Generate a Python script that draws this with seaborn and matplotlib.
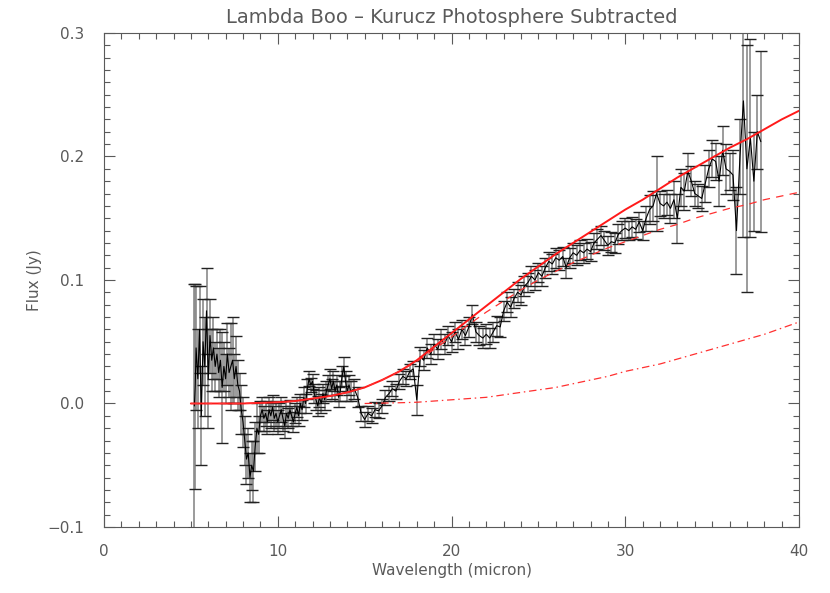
import matplotlib
matplotlib.use("Agg")
import matplotlib.pyplot as plt
import seaborn as sns
import numpy as np
import pandas as pd
from matplotlib.ticker import MultipleLocator, FixedLocator

# ---------------- data ----------------
sl_wave = [5.2, 5.25, 5.3, 5.4, 5.5, 5.6, 5.7, 5.8, 5.9, 6.0, 6.1, 6.2, 6.3, 6.4, 6.5, 6.6, 6.7,
           6.8, 6.9, 7.0, 7.1, 7.2, 7.3, 7.4, 7.5, 7.6, 7.7, 7.8, 7.9, 8.0, 8.1, 8.2, 8.3,
           8.4, 8.5, 8.6, 8.7, 8.8, 8.9, 9.0, 9.1, 9.2, 9.3, 9.4, 9.5, 9.6, 9.7, 9.8, 9.9,
           10.0, 10.1, 10.2, 10.3, 10.4, 10.5, 10.6, 10.7, 10.8, 10.9, 11.0, 11.1, 11.2,
           11.3, 11.4, 11.5, 11.6, 11.7, 11.8, 11.9, 12.0, 12.1, 12.2, 12.3, 12.4, 12.5,
           12.6, 12.7, 12.8, 12.9, 13.0, 13.1, 13.2, 13.3, 13.4, 13.5, 13.6, 13.7, 13.8,
           13.9, 14.0, 14.1, 14.2]
sl_flux = [-0.002, 0.014, 0.045, 0.020, 0.060, -0.010, 0.050, 0.030, 0.075, 0.020, 0.055, 0.035,
           0.045, 0.030, 0.040, 0.025, 0.035, 0.013, 0.030, 0.020, 0.040, 0.025, 0.030,
           0.035, 0.020, 0.030, 0.015, 0.010, -0.005, -0.015, -0.030, -0.045, -0.040,
           -0.060, -0.050, -0.055, -0.035, -0.020, -0.025, -0.010, -0.005, -0.012, -0.008,
           -0.015, -0.005, -0.010, -0.003, -0.012, -0.008, -0.015, -0.010, -0.005, -0.012,
           -0.018, -0.008, -0.012, -0.005, -0.010, -0.015, -0.008, -0.003, -0.010, 0.000,
           -0.005, 0.005, 0.000, 0.012, 0.020, 0.015, 0.018, 0.008, 0.003, -0.002, 0.005,
           0.000, 0.008, 0.003, 0.010, 0.015, 0.020, 0.012, 0.018, 0.010, 0.015, 0.005,
           0.010, 0.022, 0.030, 0.018, 0.010, 0.015, 0.010]
sl_err = [0.099, 0.083, 0.050, 0.040, 0.035, 0.040, 0.035, 0.040, 0.035, 0.040, 0.030, 0.025,
          0.025, 0.020, 0.020, 0.020, 0.025, 0.045, 0.020, 0.020, 0.025, 0.020, 0.035,
          0.035, 0.020, 0.025, 0.020, 0.015, 0.020, 0.020, 0.020, 0.020, 0.020, 0.020,
          0.020, 0.025, 0.020, 0.020, 0.015, 0.012, 0.010, 0.010, 0.010, 0.010, 0.010,
          0.010, 0.010, 0.010, 0.010, 0.010, 0.010, 0.010, 0.010, 0.010, 0.010, 0.008,
          0.008, 0.008, 0.008, 0.008, 0.008, 0.008, 0.008, 0.008, 0.008, 0.008, 0.008,
          0.006, 0.006, 0.006, 0.008, 0.008, 0.008, 0.008, 0.008, 0.008, 0.008, 0.008,
          0.008, 0.008, 0.008, 0.008, 0.008, 0.008, 0.008, 0.008, 0.008, 0.008, 0.008,
          0.008, 0.008, 0.008]

ll_wave = [14.4, 14.6, 14.8, 15.0, 15.2, 15.4, 15.6, 15.8, 16.0, 16.2, 16.4, 16.6, 16.8,
           17.0, 17.2, 17.4, 17.6, 17.8, 18.0, 18.2, 18.4, 18.6, 18.8, 19.0, 19.2, 19.4,
           19.6, 19.8, 20.0, 20.2, 20.4, 20.6, 20.8, 21.0, 21.2, 21.4, 21.6, 21.8, 22.0,
           22.2, 22.4, 22.6, 22.8, 23.0, 23.2, 23.4, 23.6, 23.8, 24.0, 24.2, 24.4, 24.6,
           24.8, 25.0, 25.2, 25.4, 25.6, 25.8, 26.0, 26.2, 26.4, 26.6, 26.8, 27.0, 27.2,
           27.4, 27.6, 27.8, 28.0, 28.2, 28.4, 28.6, 28.8, 29.0, 29.2, 29.4, 29.6, 29.8,
           30.0, 30.2, 30.4, 30.6, 30.8, 31.0, 31.2, 31.4, 31.6, 31.8, 32.0, 32.2, 32.4,
           32.6, 32.8, 33.0, 33.2, 33.4, 33.6, 33.8, 34.0, 34.2, 34.4, 34.6, 34.8, 35.0,
           35.2, 35.4, 35.6, 35.8, 36.0, 36.2, 36.4, 36.6, 36.8, 37.0, 37.2, 37.4, 37.6,
           37.8]
ll_flux = [0.012, 0.005, -0.008, -0.013, -0.008, -0.010, -0.005, -0.006, -0.002, 0.005,
           0.008, 0.012, 0.010, 0.018, 0.022, 0.020, 0.026, 0.028, 0.003, 0.038, 0.035,
           0.045, 0.040, 0.048, 0.044, 0.052, 0.048, 0.055, 0.050, 0.058, 0.052, 0.060,
           0.055, 0.062, 0.072, 0.058, 0.055, 0.053, 0.056, 0.053, 0.058, 0.063, 0.062,
           0.075, 0.082, 0.078, 0.085, 0.090, 0.088, 0.095, 0.098, 0.103, 0.100, 0.106,
           0.103, 0.110, 0.115, 0.113, 0.118, 0.116, 0.119, 0.110, 0.118, 0.122, 0.120,
           0.124, 0.122, 0.125, 0.123, 0.130, 0.133, 0.136, 0.132, 0.128, 0.131, 0.130,
           0.137, 0.140, 0.142, 0.140, 0.143, 0.141, 0.147, 0.140, 0.150, 0.157, 0.160,
           0.170, 0.162, 0.160, 0.163, 0.158, 0.165, 0.150, 0.175, 0.172, 0.188, 0.180,
           0.170, 0.168, 0.166, 0.178, 0.190, 0.198, 0.196, 0.180, 0.205, 0.190, 0.188,
           0.185, 0.140, 0.200, 0.245, 0.190, 0.215, 0.180, 0.220, 0.212]
ll_err = [0.008, 0.008, 0.006, 0.006, 0.006, 0.006, 0.006, 0.006, 0.006, 0.006, 0.006,
          0.006, 0.006, 0.006, 0.006, 0.006, 0.006, 0.006, 0.012, 0.008, 0.008, 0.008,
          0.008, 0.008, 0.008, 0.008, 0.008, 0.008, 0.008, 0.008, 0.008, 0.008, 0.008,
          0.008, 0.008, 0.008, 0.008, 0.008, 0.008, 0.008, 0.008, 0.008, 0.008, 0.008,
          0.008, 0.008, 0.008, 0.008, 0.008, 0.008, 0.008, 0.008, 0.008, 0.008, 0.008,
          0.008, 0.008, 0.008, 0.008, 0.008, 0.008, 0.008, 0.008, 0.008, 0.008, 0.008,
          0.008, 0.008, 0.008, 0.008, 0.008, 0.008, 0.008, 0.008, 0.008, 0.008, 0.008,
          0.008, 0.008, 0.008, 0.008, 0.008, 0.008, 0.008, 0.010, 0.012, 0.012, 0.030,
          0.010, 0.010, 0.010, 0.012, 0.015, 0.020, 0.015, 0.015, 0.015, 0.012, 0.010,
          0.010, 0.010, 0.015, 0.015, 0.015, 0.015, 0.020, 0.020, 0.020, 0.015, 0.020,
          0.035, 0.030, 0.110, 0.100, 0.080, 0.040, 0.030, 0.073]

# model curves
total_wave = [5, 6, 7, 8, 9, 10, 11, 12, 13, 14, 15, 16, 17, 18, 19, 20, 21, 22, 23, 24,
              25, 26, 27, 28, 29, 30, 31, 32, 33, 34, 35, 36, 37, 38, 39, 40]
total_flux = [0.000, 0.000, 0.000, 0.000, 0.0005, 0.001, 0.002, 0.004, 0.006, 0.009,
              0.013, 0.019, 0.026, 0.035, 0.046, 0.057, 0.068, 0.079, 0.090, 0.101, 0.111,
              0.121, 0.130, 0.139, 0.148, 0.157, 0.165, 0.174, 0.183, 0.191, 0.199, 0.207,
              0.214, 0.222, 0.230, 0.237]
warm_wave = [5, 6, 7, 8, 9, 10, 11, 12, 13, 14, 15, 16, 17, 18, 19, 20, 21, 22, 23, 24,
             25, 26, 27, 28, 29, 30, 31, 32, 33, 34, 35, 36, 37, 38, 39, 40]
warm_flux = [0.000, 0.000, 0.000, 0.000, 0.0005, 0.001, 0.002, 0.004, 0.006, 0.009,
             0.013, 0.019, 0.026, 0.034, 0.044, 0.054, 0.064, 0.074, 0.083, 0.092, 0.100,
             0.107, 0.114, 0.120, 0.126, 0.131, 0.136, 0.141, 0.145, 0.150, 0.154, 0.158,
             0.161, 0.165, 0.168, 0.171]
cold_wave = [15, 16, 17, 18, 19, 20, 21, 22, 23, 24, 25, 26, 27, 28, 29, 30, 31, 32, 33,
             34, 35, 36, 37, 38, 39, 40]
cold_flux = [0.000, 0.0003, 0.0006, 0.001, 0.002, 0.003, 0.004, 0.005, 0.007, 0.009,
             0.011, 0.013, 0.016, 0.019, 0.022, 0.026, 0.029, 0.032, 0.036, 0.040, 0.044,
             0.048, 0.052, 0.056, 0.061, 0.066]

x_ticks = [0, 10, 20, 30, 40]
x_ticklabels = ['0', '10', '20', '30', '40']
y_ticks = [-0.1, 0.0, 0.1, 0.2, 0.3]
y_ticklabels = ['\u22120.1', '0.0', '0.1', '0.2', '0.3']

title = "Lambda Boo \u2013 Kurucz Photosphere Subtracted"
xlabel = "Wavelength (micron)"
ylabel = "Flux (Jy)"

# ---------------- plotting ----------------
sns.set_style("ticks")
plt.rcParams['font.family'] = ['DejaVu Sans']
txt = '#5a5a5a'

wave = np.array(sl_wave + ll_wave)
flux = np.array(sl_flux + ll_flux)
err = np.array(sl_err + ll_err)
df = pd.DataFrame({"wave": wave, "flux": flux, "err": err})

fig = plt.figure(figsize=(8.30, 5.93), dpi=100)
ax = fig.add_axes([0.1253, 0.1113, 0.8374, 0.8331])

# error bars: grey bars with dark caps
ax.vlines(df["wave"], df["flux"] - df["err"], df["flux"] + df["err"],
          colors='#8a8a8a', linewidth=1.2, zorder=2)
ax.plot(df["wave"], df["flux"] + df["err"], linestyle='none', marker='_',
        markersize=9, markeredgewidth=1.0, color='#222222', zorder=3)
ax.plot(df["wave"], df["flux"] - df["err"], linestyle='none', marker='_',
        markersize=9, markeredgewidth=1.0, color='#222222', zorder=3)

sns.lineplot(data=df, x="wave", y="flux", ax=ax, color='black', linewidth=0.8,
             sort=False, estimator=None, zorder=4)

sns.lineplot(x=total_wave, y=total_flux, ax=ax, color='#ff1a1a', linewidth=1.4,
             sort=False, estimator=None, zorder=5)
sns.lineplot(x=warm_wave, y=warm_flux, ax=ax, color='#ff3030', linewidth=0.9,
             sort=False, estimator=None, zorder=5)
ax.lines[-1].set_dashes([6, 5])
sns.lineplot(x=cold_wave, y=cold_flux, ax=ax, color='#ff3030', linewidth=0.9,
             sort=False, estimator=None, zorder=5)
ax.lines[-1].set_dashes([6, 3, 1.2, 3])

ax.set_xlim(0, 40)
ax.set_ylim(-0.1, 0.3)
ax.xaxis.set_major_locator(FixedLocator(x_ticks))
ax.xaxis.set_minor_locator(MultipleLocator(1))
ax.yaxis.set_major_locator(FixedLocator(y_ticks))
ax.yaxis.set_minor_locator(MultipleLocator(0.01))
ax.set_xticklabels(x_ticklabels)
ax.set_yticklabels(y_ticklabels)
ax.tick_params(which='both', direction='in', top=True, right=True, colors=txt,
               labelsize=11, width=0.8)
ax.tick_params(which='major', length=8)
ax.tick_params(which='minor', length=4.5)
ax.tick_params(axis='x', which='major', pad=12)
ax.tick_params(axis='y', which='major', pad=14)
for s in ax.spines.values():
    s.set_color(txt)
    s.set_linewidth(0.8)

ax.set_xlabel(xlabel, color=txt, fontsize=11, labelpad=3)
ax.set_ylabel(ylabel, color=txt, fontsize=11, labelpad=4)
ax.set_title(title, color=txt, fontsize=14, pad=7)

fig.savefig("out.png", dpi=100)
